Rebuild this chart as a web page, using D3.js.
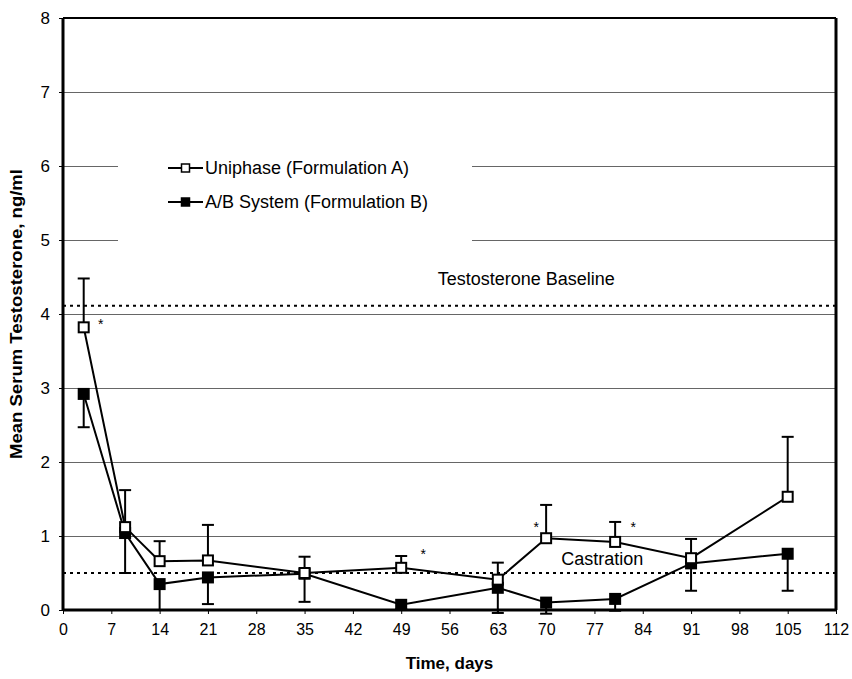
<!DOCTYPE html>
<html>
<head>
<meta charset="utf-8">
<script src="https://cdn.jsdelivr.net/npm/d3@7"></script>
<style>
  body { margin: 0; background: #fff; }
  text { font-family: "Liberation Sans", Arial, sans-serif; }
</style>
</head>
<body>
<div id="chartDiv"></div>
<script>
let w = 852
let h = 679
let margin = {left: 63, top: 18, right: 16, bottom: 69}

// data
let DAYS = [3, 9, 14, 21, 35, 49, 63, 70, 80, 91, 105]
let UNIPHASE = [3.82, 1.12, 0.66, 0.67, 0.50, 0.57, 0.41, 0.97, 0.92, 0.70, 1.53]
let UNIPHASE_UPPER = [4.48, 1.62, 0.93, 1.15, 0.72, 0.73, 0.64, 1.42, 1.19, 0.96, 2.34]
let AB = [2.92, 1.04, 0.35, 0.44, 0.49, 0.07, 0.30, 0.10, 0.15, 0.63, 0.76]
let AB_LOWER = [2.47, 0.50, 0.0, 0.08, 0.11, 0.01, -0.04, -0.05, -0.01, 0.26, 0.26]
let X_TICKS = d3.range(0, 113, 7)
let Y_TICKS = d3.range(0, 9, 1)
let BASELINE = 4.11
let CASTRATION = 0.5
// significance marks: [day, value, dx, dy]
let STARS = [[3, 3.82, 17, 2], [49, 0.57, 22, -9], [70, 0.97, -10, -6], [80, 0.92, 18, -10]]
let LEGEND = ["Uniphase (Formulation A)", "A/B System (Formulation B)"]

let width = w - margin.left - margin.right
let height = h - margin.top - margin.bottom

let svg = d3.select("#chartDiv")
  .append("svg")
  .attr("width", w)
  .attr("height", h)

let g = svg.append("g")
  .attr("transform", "translate(" + margin.left + "," + margin.top + ")")

let x = d3.scaleLinear().domain([0, 112]).range([0, width])
let y = d3.scaleLinear().domain([0, 8]).range([height, 0])

// gridlines
g.selectAll(".grid")
  .data(Y_TICKS.filter(d => d > 0 && d < 8))
  .enter()
  .append("line")
  .attr("x1", 0)
  .attr("x2", width)
  .attr("y1", d => y(d) + 0.5)
  .attr("y2", d => y(d) + 0.5)
  .attr("stroke", "#666")
  .attr("stroke-width", 1)
  .attr("shape-rendering", "crispEdges")

// legend box hides part of the grid
g.append("rect")
  .attr("x", 118 - margin.left)
  .attr("y", y(6.5))
  .attr("width", 354)
  .attr("height", y(4.8) - y(6.5))
  .attr("fill", "#fff")

// reference lines
g.selectAll(".ref")
  .data([BASELINE, CASTRATION])
  .enter()
  .append("line")
  .attr("x1", 0)
  .attr("x2", width)
  .attr("y1", d => y(d))
  .attr("y2", d => y(d))
  .attr("stroke", "#000")
  .attr("stroke-width", 2)
  .attr("stroke-dasharray", "3,4")

g.append("text")
  .attr("x", x(54.3))
  .attr("y", y(BASELINE) - 21)
  .attr("font-size", 18)
  .text("Testosterone Baseline")

g.append("text")
  .attr("x", x(72.2))
  .attr("y", y(CASTRATION) - 8)
  .attr("font-size", 18)
  .text("Castration")

// axes
let xAxis = d3.axisBottom(x).tickValues(X_TICKS).tickSize(4).tickPadding(10)
let yAxis = d3.axisLeft(y).tickValues(Y_TICKS).tickSize(4).tickPadding(9)

let gx = g.append("g")
  .attr("transform", "translate(0," + height + ")")
  .call(xAxis)
gx.select(".domain").remove()
gx.selectAll("text").attr("font-size", 16).attr("fill", "#000")
  .style("font-family", "'Liberation Sans', Arial, sans-serif")

let gy = g.append("g").call(yAxis)
gy.select(".domain").remove()
gy.selectAll("text").attr("font-size", 17).attr("fill", "#000")
  .style("font-family", "'Liberation Sans', Arial, sans-serif")

// frame
g.append("line").attr("x1", 0).attr("x2", width).attr("y1", 0).attr("y2", 0)
  .attr("stroke", "#000").attr("stroke-width", 2)
g.append("line").attr("x1", width).attr("x2", width).attr("y1", 0).attr("y2", height)
  .attr("stroke", "#000").attr("stroke-width", 3)
g.append("line").attr("x1", 0).attr("x2", 0).attr("y1", 0).attr("y2", height)
  .attr("stroke", "#000").attr("stroke-width", 3)
g.append("line").attr("x1", 0).attr("x2", width).attr("y1", height).attr("y2", height)
  .attr("stroke", "#000").attr("stroke-width", 3)

// error bars
let drawErrors = (vals, ends) => {
  let eb = g.append("g")
  eb.selectAll("line.v")
    .data(DAYS)
    .enter()
    .append("line")
    .attr("x1", d => x(d))
    .attr("x2", d => x(d))
    .attr("y1", (d, i) => y(vals[i]))
    .attr("y2", (d, i) => y(ends[i]))
    .attr("stroke", "#000")
    .attr("stroke-width", 2)
  eb.selectAll("line.c")
    .data(DAYS)
    .enter()
    .append("line")
    .attr("x1", d => x(d) - 6)
    .attr("x2", d => x(d) + 6)
    .attr("y1", (d, i) => y(ends[i]))
    .attr("y2", (d, i) => y(ends[i]))
    .attr("stroke", "#000")
    .attr("stroke-width", 2)
}
drawErrors(UNIPHASE, UNIPHASE_UPPER)
drawErrors(AB, AB_LOWER)

// lines
let line = d3.line().x((d, i) => x(DAYS[i])).y(d => y(d))
let drawSeries = (vals, fill) => {
  g.append("path")
    .datum(vals)
    .attr("d", line)
    .attr("fill", "none")
    .attr("stroke", "#000")
    .attr("stroke-width", 2)
  g.selectAll(null)
    .data(vals)
    .enter()
    .append("rect")
    .attr("x", (d, i) => x(DAYS[i]) - 5)
    .attr("y", d => y(d) - 5)
    .attr("width", 10)
    .attr("height", 10)
    .attr("fill", fill)
    .attr("stroke", "#000")
    .attr("stroke-width", 2)
}
drawSeries(AB, "#000")
drawSeries(UNIPHASE, "#fff")

// asterisks
g.selectAll(".star")
  .data(STARS)
  .enter()
  .append("text")
  .attr("x", d => x(d[0]) + d[2])
  .attr("y", d => y(d[1]) + d[3])
  .attr("text-anchor", "middle")
  .attr("font-size", 14)
  .attr("fill", "#000")
  .text("*")

// legend
let lg = g.selectAll(".legend")
  .data(LEGEND)
  .enter()
  .append("g")
  .attr("transform", (d, i) => "translate(" + (168 - margin.left) + "," + (168 - margin.top + i * 34) + ")")
lg.append("line")
  .attr("x1", 0).attr("x2", 35).attr("y1", 0).attr("y2", 0)
  .attr("stroke", "#000").attr("stroke-width", 2)
lg.append("rect")
  .attr("x", 13.5).attr("y", -4).attr("width", 8).attr("height", 8)
  .attr("fill", (d, i) => i == 0 ? "#fff" : "#000")
  .attr("stroke", "#000").attr("stroke-width", 1.5)
lg.append("text")
  .attr("x", 37)
  .attr("dy", "0.35em")
  .attr("font-size", 18)
  .text(d => d)

// titles
svg.append("text")
  .attr("x", margin.left + x(56))
  .attr("y", 669)
  .attr("text-anchor", "middle")
  .attr("font-size", 17)
  .attr("font-weight", "bold")
  .text("Time, days")

svg.append("text")
  .attr("transform", "translate(22," + (margin.top + y(4)) + ") rotate(-90)")
  .attr("text-anchor", "middle")
  .attr("font-size", 17)
  .attr("font-weight", "bold")
  .attr("textLength", 290)
  .attr("lengthAdjust", "spacingAndGlyphs")
  .text("Mean Serum Testosterone, ng/ml")
</script>
</body>
</html>
